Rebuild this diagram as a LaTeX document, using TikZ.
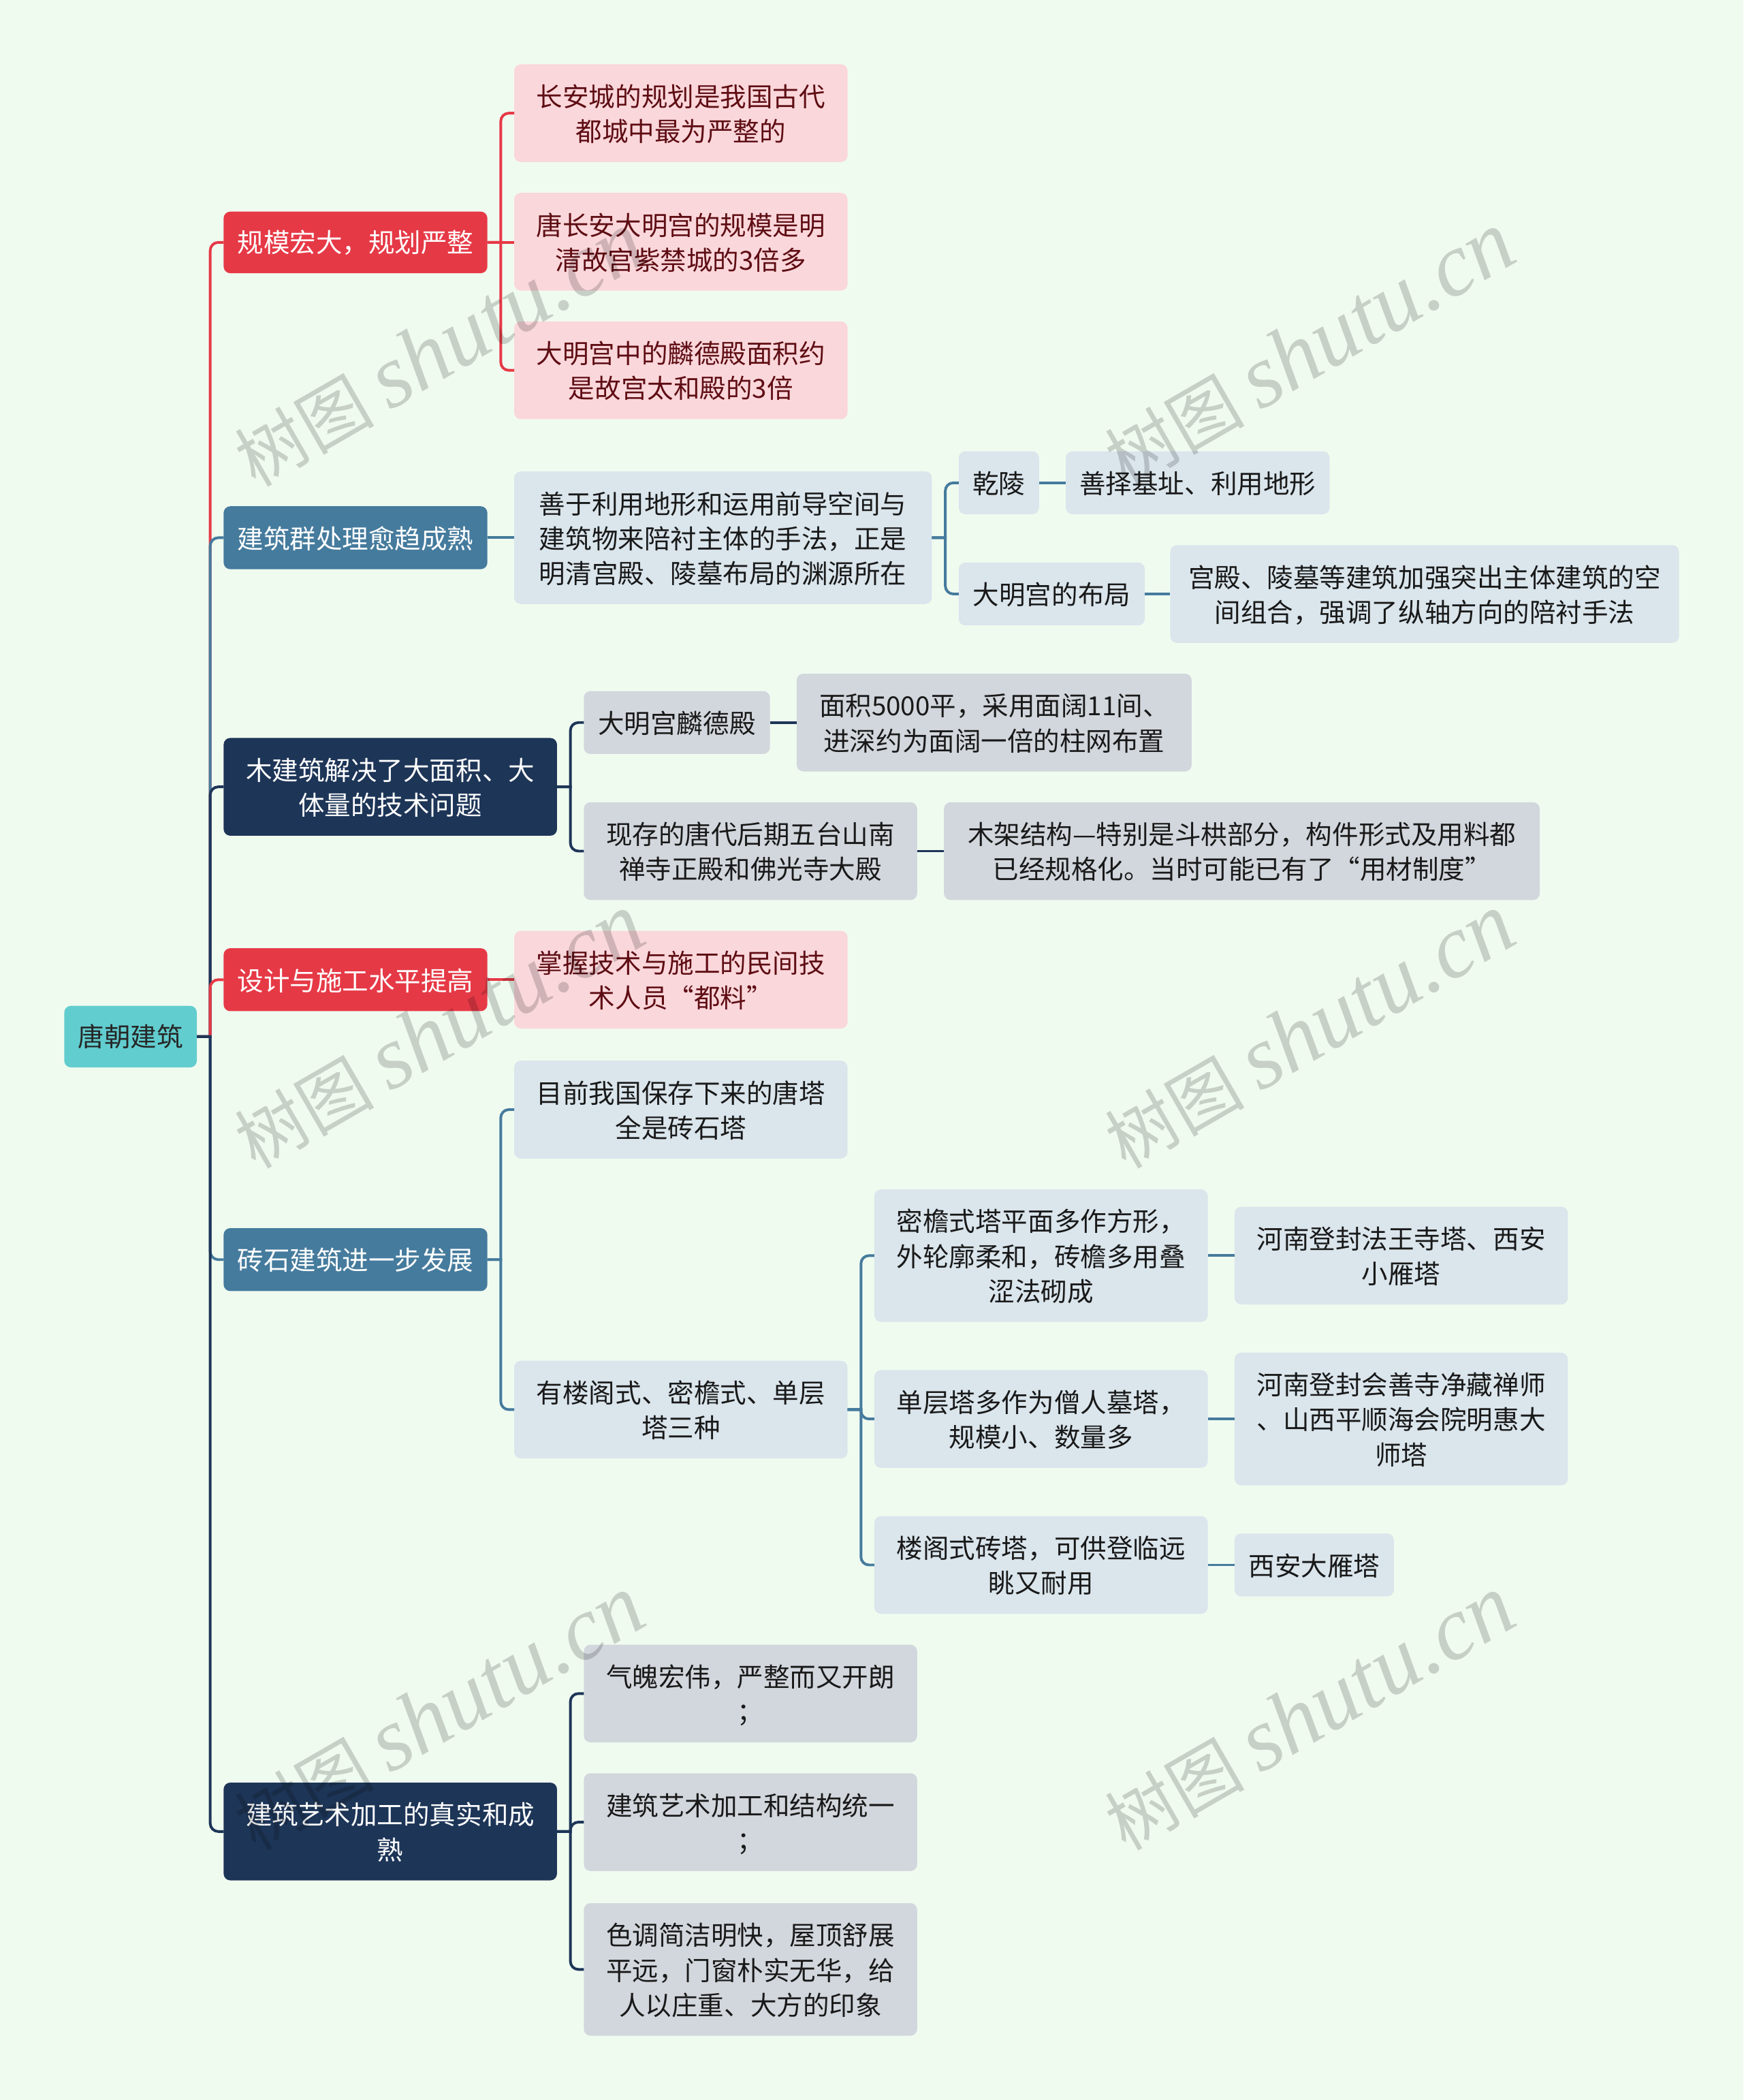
\documentclass[tikz,border=0pt]{standalone}
\usepackage{fontspec}
\setmainfont{Noto Sans CJK SC}
\newfontfamily\wmlatin{Liberation Serif}
\usepackage{tikz}
\usetikzlibrary{calc}
\definecolor{pagebg}{HTML}{F0FBF0}
\definecolor{rootfill}{HTML}{62CDCF}
\definecolor{redfill}{HTML}{E63946}
\definecolor{bluefill}{HTML}{457B9D}
\definecolor{navyfill}{HTML}{1D3557}
\definecolor{redsoft}{HTML}{FAD7DB}
\definecolor{bluesoft}{HTML}{DAE5EC}
\definecolor{navysoft}{HTML}{D2D7DD}
\definecolor{redtext}{HTML}{5E0D13}
\tikzset{
	boxwh/.style 2 args={minimum width=#1pt,minimum height=#2pt,execute at begin node={\rule[-4pt]{0pt}{\numexpr#2-23\relax pt}}},
	topicbox/.style={anchor=north west,rounded corners=5pt,inner sep=0pt,outer sep=0pt,align=center,font=\fontsize{19.6}{26}\selectfont},
	rootbox/.style={topicbox,fill=rootfill,text=black!85},
	redbox/.style={topicbox,fill=redfill,text=white},
	bluebox/.style={topicbox,fill=bluefill,text=white},
	navybox/.style={topicbox,fill=navyfill,text=white},
	redleaf/.style={topicbox,fill=redsoft,text=redtext},
	blueleaf/.style={topicbox,fill=bluesoft,text=black!90},
	navyleaf/.style={topicbox,fill=navysoft,text=black!90},
	redline/.style={draw=redfill,line width=2pt},
	blueline/.style={draw=bluefill,line width=2pt},
	navyline/.style={draw=navyfill,line width=2pt},
	watermark/.style={rotate=30,text=black,opacity=0.17,inner sep=0pt,font=\fontsize{52}{60}\selectfont}
}
\newcommand{\link}[3]{\draw[#1] (#2.east) -- ++(10,0) [rounded corners=6pt] |- (#3.west);}
\newcommand{\linkflat}[3]{\draw[#1] (#2.east) -- (#2.east -| #3.west);}
\begin{document}
\begin{tikzpicture}[x=1pt,y=-1pt]
	\fill[pagebg] (0,0) rectangle (1302,1568);
	\useasboundingbox (0,0) rectangle (1302,1568);
	% root and main topics
	\node[rootbox,boxwh={99}{46}] (root) at (48,751) {唐朝建筑};
	\node[redbox,boxwh={197}{46}] (scale) at (167,158) {规模宏大，规划严整};
	\node[bluebox,boxwh={197}{47}] (group) at (167,378) {建筑群处理愈趋成熟};
	\node[navybox,boxwh={249}{73}] (wood) at (167,551) {木建筑解决了大面积、大\\体量的技术问题};
	\node[redbox,boxwh={197}{47}] (craft) at (167,708) {设计与施工水平提高};
	\node[bluebox,boxwh={197}{47}] (brick) at (167,917) {砖石建筑进一步发展};
	\node[navybox,boxwh={249}{73}] (art) at (167,1331) {建筑艺术加工的真实和成\\熟};
	% red leaves
	\node[redleaf,boxwh={249}{73}] (city) at (384,48) {长安城的规划是我国古代\\都城中最为严整的};
	\node[redleaf,boxwh={249}{73}] (palace) at (384,144) {唐长安大明宫的规模是明\\清故宫紫禁城的3倍多};
	\node[redleaf,boxwh={249}{73}] (hall) at (384,240) {大明宫中的麟德殿面积约\\是故宫太和殿的3倍};
	\node[redleaf,boxwh={249}{73}] (dulao) at (384,695) {掌握技术与施工的民间技\\术人员“都料”};
	% blue leaves
	\node[blueleaf,boxwh={312}{99}] (terrain) at (384,352) {善于利用地形和运用前导空间与\\建筑物来陪衬主体的手法，正是\\明清宫殿、陵墓布局的渊源所在};
	\node[blueleaf,boxwh={60}{47}] (qian) at (716,337) {乾陵};
	\node[blueleaf,boxwh={197}{47}] (site) at (796,337) {善择基址、利用地形};
	\node[blueleaf,boxwh={139}{47}] (layout) at (716,420) {大明宫的布局};
	\node[blueleaf,boxwh={380}{73}] (axis) at (874,407) {宫殿、陵墓等建筑加强突出主体建筑的空\\间组合，强调了纵轴方向的陪衬手法};
	\node[blueleaf,boxwh={249}{73}] (tang) at (384,792) {目前我国保存下来的唐塔\\全是砖石塔};
	\node[blueleaf,boxwh={249}{73}] (kinds) at (384,1016) {有楼阁式、密檐式、单层\\塔三种};
	\node[blueleaf,boxwh={249}{99}] (miyan) at (653,888) {密檐式塔平面多作方形，\\外轮廓柔和，砖檐多用叠\\涩法砌成};
	\node[blueleaf,boxwh={249}{73}] (fawang) at (922,901) {河南登封法王寺塔、西安\\小雁塔};
	\node[blueleaf,boxwh={249}{73}] (single) at (653,1023) {单层塔多作为僧人墓塔，\\规模小、数量多};
	\node[blueleaf,boxwh={249}{99}] (jingzang) at (922,1010) {河南登封会善寺净藏禅师\\、山西平顺海会院明惠大\\师塔};
	\node[blueleaf,boxwh={249}{73}] (louge) at (653,1132) {楼阁式砖塔，可供登临远\\眺又耐用};
	\node[blueleaf,boxwh={119}{47}] (goose) at (922,1145) {西安大雁塔};
	% navy leaves
	\node[navyleaf,boxwh={139}{47}] (linde) at (436,516) {大明宫麟德殿};
	\node[navyleaf,boxwh={295}{73}] (area) at (595,503) {面积5000平，采用面阔11间、\\进深约为面阔一倍的柱网布置};
	\node[navyleaf,boxwh={249}{73}] (nanchan) at (436,599) {现存的唐代后期五台山南\\禅寺正殿和佛光寺大殿};
	\node[navyleaf,boxwh={445}{73}] (frame) at (705,599) {木架结构—特别是斗栱部分，构件形式及用料都\\已经规格化。当时可能已有了“用材制度”};
	\node[navyleaf,boxwh={249}{73}] (grand) at (436,1228) {气魄宏伟，严整而又开朗\\；};
	\node[navyleaf,boxwh={249}{73}] (unity) at (436,1324) {建筑艺术加工和结构统一\\；};
	\node[navyleaf,boxwh={249}{99}] (tone) at (436,1421) {色调简洁明快，屋顶舒展\\平远，门窗朴实无华，给\\人以庄重、大方的印象};
	% connectors
	\link{redline}{root}{scale}
	\link{blueline}{root}{group}
	\link{navyline}{root}{wood}
	\link{redline}{root}{craft}
	\link{blueline}{root}{brick}
	\link{navyline}{root}{art}
	\foreach \a in {city,hall}
		{\link{redline}{scale}{\a}};
	\linkflat{redline}{scale}{palace}
	\linkflat{redline}{craft}{dulao}
	\linkflat{blueline}{group}{terrain}
	\link{blueline}{terrain}{qian}
	\link{blueline}{terrain}{layout}
	\linkflat{blueline}{qian}{site}
	\linkflat{blueline}{layout}{axis}
	\link{blueline}{brick}{tang}
	\link{blueline}{brick}{kinds}
	\foreach \a in {miyan,single,louge}
		{\link{blueline}{kinds}{\a}};
	\linkflat{blueline}{miyan}{fawang}
	\linkflat{blueline}{single}{jingzang}
	\linkflat{blueline}{louge}{goose}
	\link{navyline}{wood}{linde}
	\link{navyline}{wood}{nanchan}
	\linkflat{navyline}{linde}{area}
	\linkflat{navyline}{nanchan}{frame}
	\foreach \a in {grand,unity,tone}
		{\link{navyline}{art}{\a}};
	% watermarks
	\foreach \i in {328,978}
		{\foreach \j in {261,770,1279}
			{\node[watermark] (mark\i\j) at (\i,\j) {树图 {\wmlatin\itshape\fontsize{67}{60}\selectfont shutu.cn}};};
	};
\end{tikzpicture}
\end{document}
